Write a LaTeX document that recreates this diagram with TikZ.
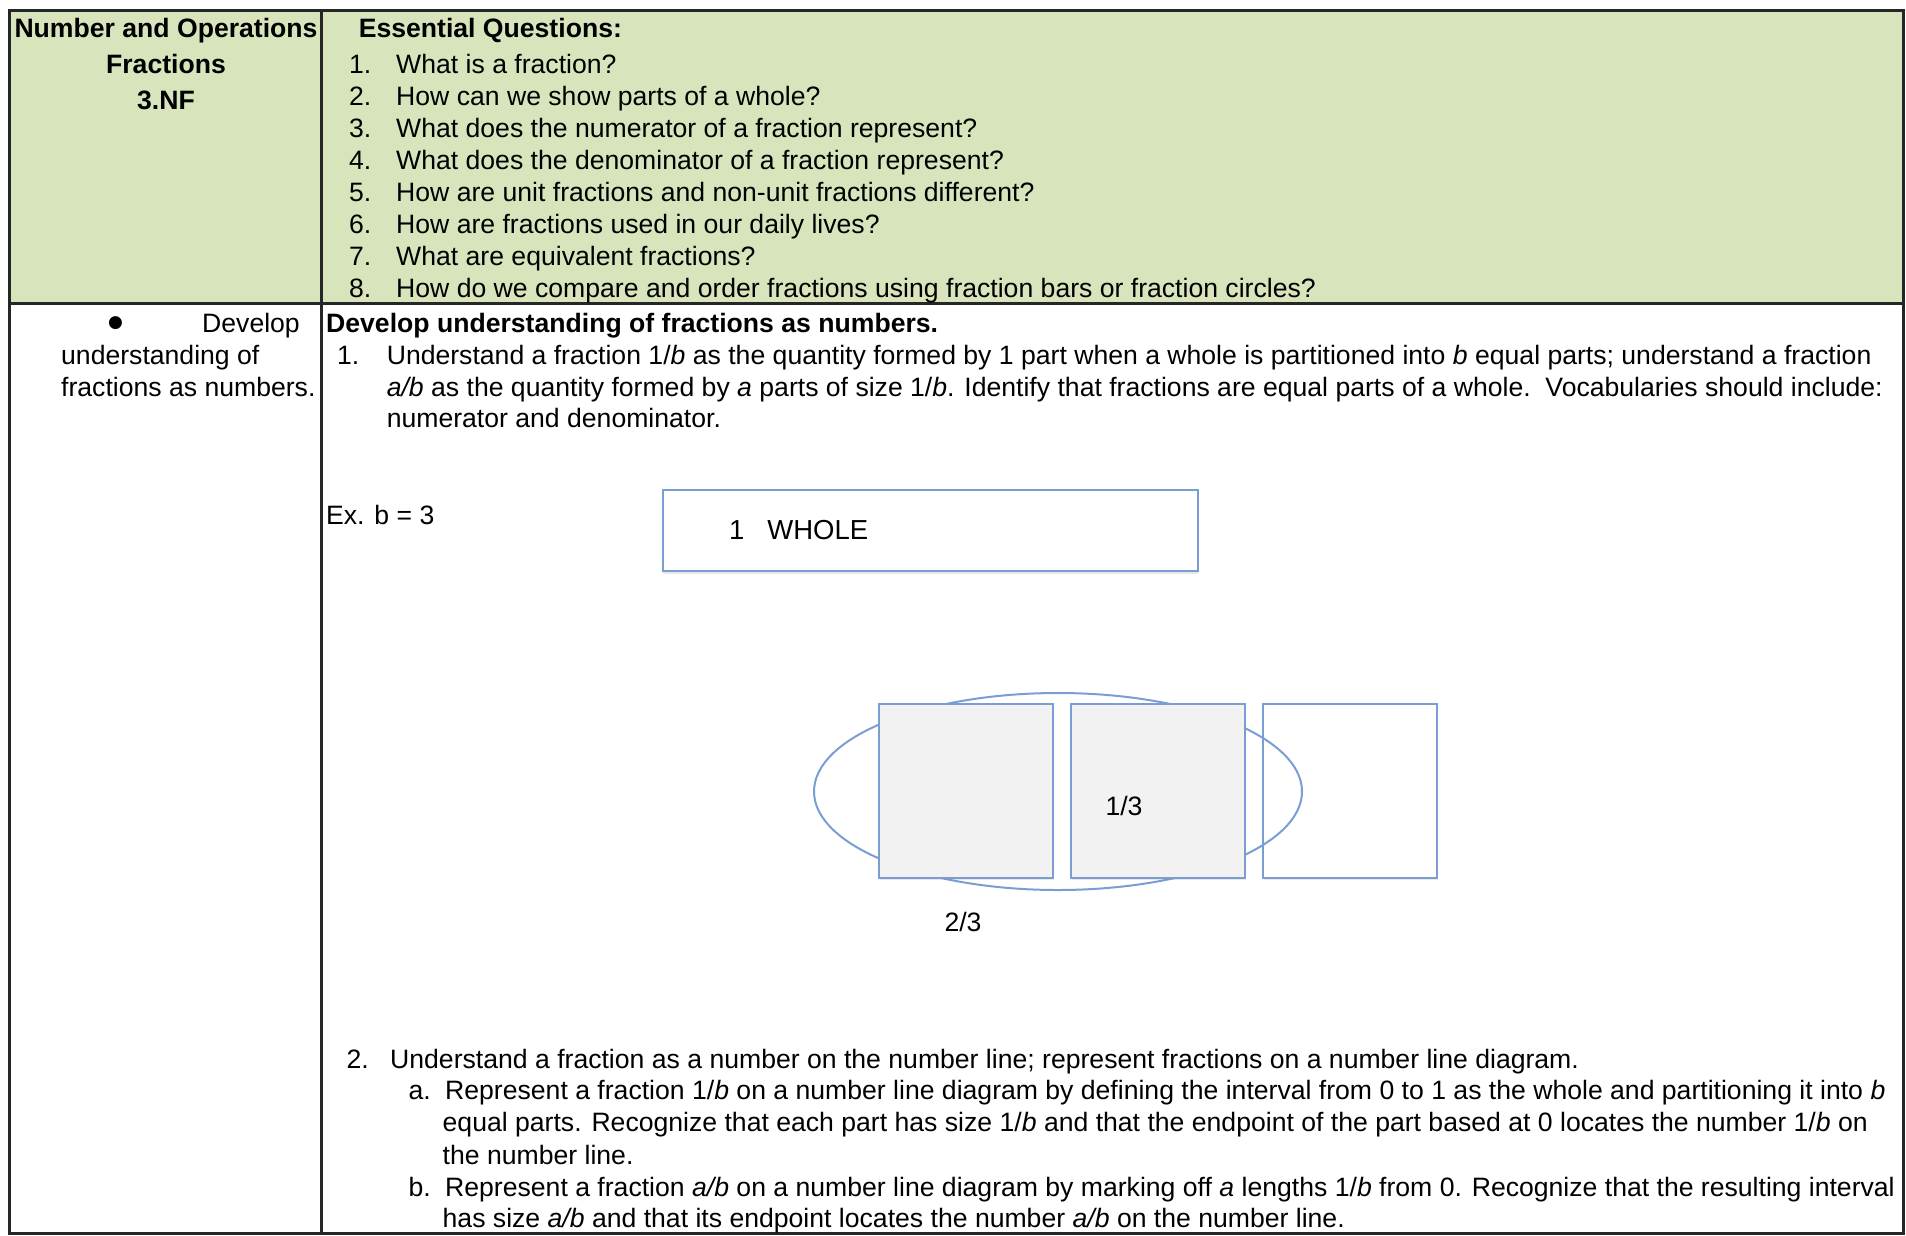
\documentclass[tikz,border=0pt]{standalone}
\usepackage{fontspec}
\setmainfont{Liberation Sans}
\newfontfamily\symfont{DejaVu Sans}
\usetikzlibrary{shapes.geometric,shadows}
\definecolor{headgreen}{HTML}{D8E4BC}
\definecolor{partblue}{HTML}{7A9ED3}
\definecolor{partgray}{HTML}{F2F2F2}

\begin{document}
\begin{tikzpicture}[x=1pt,y=-1pt,
    txt/.style={anchor=base west, inner sep=0pt, font=\fontsize{26.6}{32}\selectfont},
    hd/.style={txt, font=\fontsize{26.6}{32}\selectfont\bfseries},
    rule/.style={line width=3pt, black!85},
    part/.style={draw=partblue, line width=2pt, minimum width=174pt, minimum height=174pt, inner sep=0pt},
    soft/.style={drop shadow={shadow xshift=0.5pt, shadow yshift=-2.5pt, opacity=0.18}}]
  \useasboundingbox (0,0) rectangle (1906,1235);

  % Table frame
  \fill[headgreen] (9.5,10) rectangle (1903,303);
  \draw[rule] (9.5,10) rectangle (1903,1233);
  \draw[rule] (9.5,303) -- (1903,303);
  \draw[rule] (321,10) -- (321,1233);

  % Header, left cell
  \node[hd, anchor=base] (strand) at (166,37.5) {Number and Operations};
  \node[hd, anchor=base] (domain) at (166,73.5) {Fractions};
  \node[hd, anchor=base] (code) at (166,109.5) {3.NF};

  % Essential questions
  \node[hd] (eq) at (358.6,37.5) {Essential Questions:};
  \foreach \q [count=\i] in {{What is a fraction?},
      {How can we show parts of a whole?},
      {What does the numerator of a fraction represent?},
      {What does the denominator of a fraction represent?},
      {How are unit fractions and non-unit fractions different?},
      {How are fractions used in our daily lives?},
      {What are equivalent fractions?},
      {How do we compare and order fractions using fraction bars or fraction circles?}} {
    \node[txt] (qn\i) at (349,41.5+32*\i) {\i.};
    \node[txt] (q\i) at (396,41.5+32*\i) {\q};
  }

  % Cluster, left cell
  \node[txt, anchor=center] (dot) at (115.5,323) {\symfont\fontsize{17}{18}\selectfont ●};
  \node[txt, anchor=base east] (cl1) at (300,332.5) {Develop};
  \node[txt] (cl2) at (61,364.5) {understanding of};
  \node[txt] (cl3) at (61,396) {fractions as numbers.};

  % Standard 1
  \node[hd] (std) at (326,332.5) {Develop understanding of fractions as numbers.};
  \node[txt] (n1) at (337,364.5) {1.};
  \node[txt] (s1a) at (386.6,364.5) {Understand a fraction 1/\textit{b} as the quantity formed by 1 part when a whole is partitioned into \textit{b} equal parts; understand a fraction};
  \node[txt] (s1b) at (386.6,396) {\textit{a/b} as the quantity formed by \textit{a} parts of size 1/\textit{b}. Identify that fractions are equal parts of a whole.\ \ Vocabularies should include:};
  \node[txt] (s1c) at (386.6,427.5) {numerator and denominator.};

  % Example
  \node[txt] (ex) at (326,524.5) {Ex. b = 3};
  \node[draw=partblue, line width=2pt, fill=white, soft, minimum width=535pt, minimum height=81pt] (whole) at (930,530.5) {};
  \node[txt, font=\fontsize{27.5}{32}\selectfont] (wholelbl) at (729,539.5) {1\ \ \ WHOLE};

  \node[part, fill=white, soft] (third3) at (1350,790.8) {};
  \node[draw=partblue, line width=2pt, ellipse, minimum width=488pt, minimum height=197pt, inner sep=0pt] (pair) at (1058,791.5) {};
  \node[part, fill=partgray, soft] (third1) at (966,790.8) {};
  \node[part, fill=partgray, soft] (third2) at (1158,790.8) {};
  \node[txt, anchor=center] (onethird) at (1124,806) {1/3};
  \node[txt, anchor=center] (twothirds) at (963,921.5) {2/3};

  % Standard 2
  \node[txt] (n2) at (346.5,1068.5) {2.};
  \node[txt] (s2) at (390,1068.5) {Understand a fraction as a number on the number line; represent fractions on a number line diagram.};
  \node[txt] (na) at (408.5,1099.5) {a.};
  \node[txt] (s2a1) at (445,1099.5) {Represent a fraction 1/\textit{b} on a number line diagram by defining the interval from 0 to 1 as the whole and partitioning it into \textit{b}};
  \node[txt] (s2a2) at (442.5,1131.5) {equal parts. Recognize that each part has size 1/\textit{b} and that the endpoint of the part based at 0 locates the number 1/\textit{b} on};
  \node[txt] (s2a3) at (442.5,1164.5) {the number line.};
  \node[txt] (nb) at (408.5,1196) {b.};
  \node[txt] (s2b1) at (445,1196) {Represent a fraction \textit{a/b} on a number line diagram by marking off \textit{a} lengths 1/\textit{b} from 0. Recognize that the resulting interval};
  \node[txt] (s2b2) at (442.5,1227.5) {has size \textit{a/b} and that its endpoint locates the number \textit{a/b} on the number line.};
\end{tikzpicture}
\end{document}
